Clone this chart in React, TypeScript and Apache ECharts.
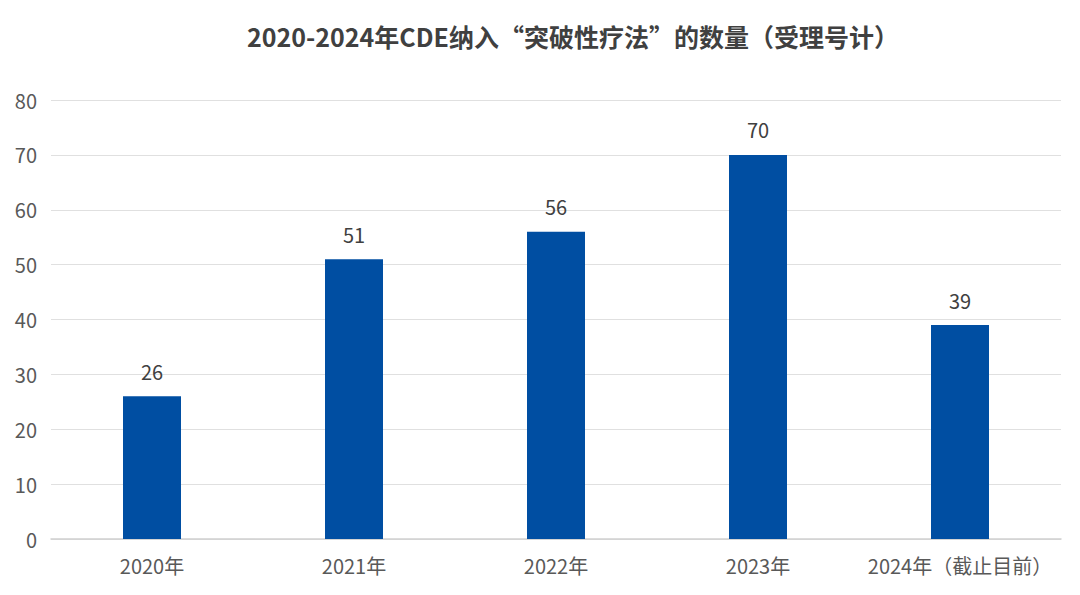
import React, { useEffect, useRef } from "react";
import * as echarts from "echarts";

const categories = ["2020年", "2021年", "2022年", "2023年", "2024年（截止目前）"];
const counts = [26, 51, 56, 70, 39];
const yTicks = { min: 0, max: 80, interval: 10 };
const titleText = "2020-2024年CDE纳入“突破性疗法”的数量（受理号计）";

export default function App() {
  const ref = useRef<HTMLDivElement>(null);
  useEffect(() => {
    if (!ref.current) return;
    const chart = echarts.init(ref.current, null, { renderer: "svg" });
    const font = "'Noto Sans CJK SC', 'Noto Sans', sans-serif";
    chart.setOption({
      animation: false,
      backgroundColor: "#ffffff",
      title: {
        text: titleText,
        left: 242,
        top: 18,
        textStyle: { fontFamily: font, fontSize: 25, fontWeight: "bold", color: "#404040" },
      },
      grid: { left: 51, right: 19, top: 100, bottom: 56, containLabel: false },
      xAxis: {
        type: "category",
        data: categories,
        axisLine: { lineStyle: { color: "#d0d0d0", width: 1.5 } },
        axisTick: { show: false },
        axisLabel: { interval: 0, fontFamily: font, fontSize: 20, color: "#595959", margin: 16 },
      },
      yAxis: {
        type: "value",
        min: yTicks.min,
        max: yTicks.max,
        interval: yTicks.interval,
        axisLine: { show: false },
        axisTick: { show: false },
        axisLabel: { fontFamily: font, fontSize: 20, color: "#595959", margin: 14 },
        splitLine: { lineStyle: { color: "#e0e0e0", width: 1 } },
      },
      series: [
        {
          type: "bar",
          data: counts,
          barWidth: 58,
          itemStyle: { color: "#004EA2" },
          label: {
            show: true,
            position: "top",
            distance: 15,
            fontFamily: font,
            fontSize: 20,
            color: "#404040",
          },
        },
      ],
    });
    return () => chart.dispose();
  }, []);
  return (
    <div
      ref={ref}
      style={{ position: "absolute", left: 0, top: 0, width: 1080, height: 595 }}
    />
  );
}
